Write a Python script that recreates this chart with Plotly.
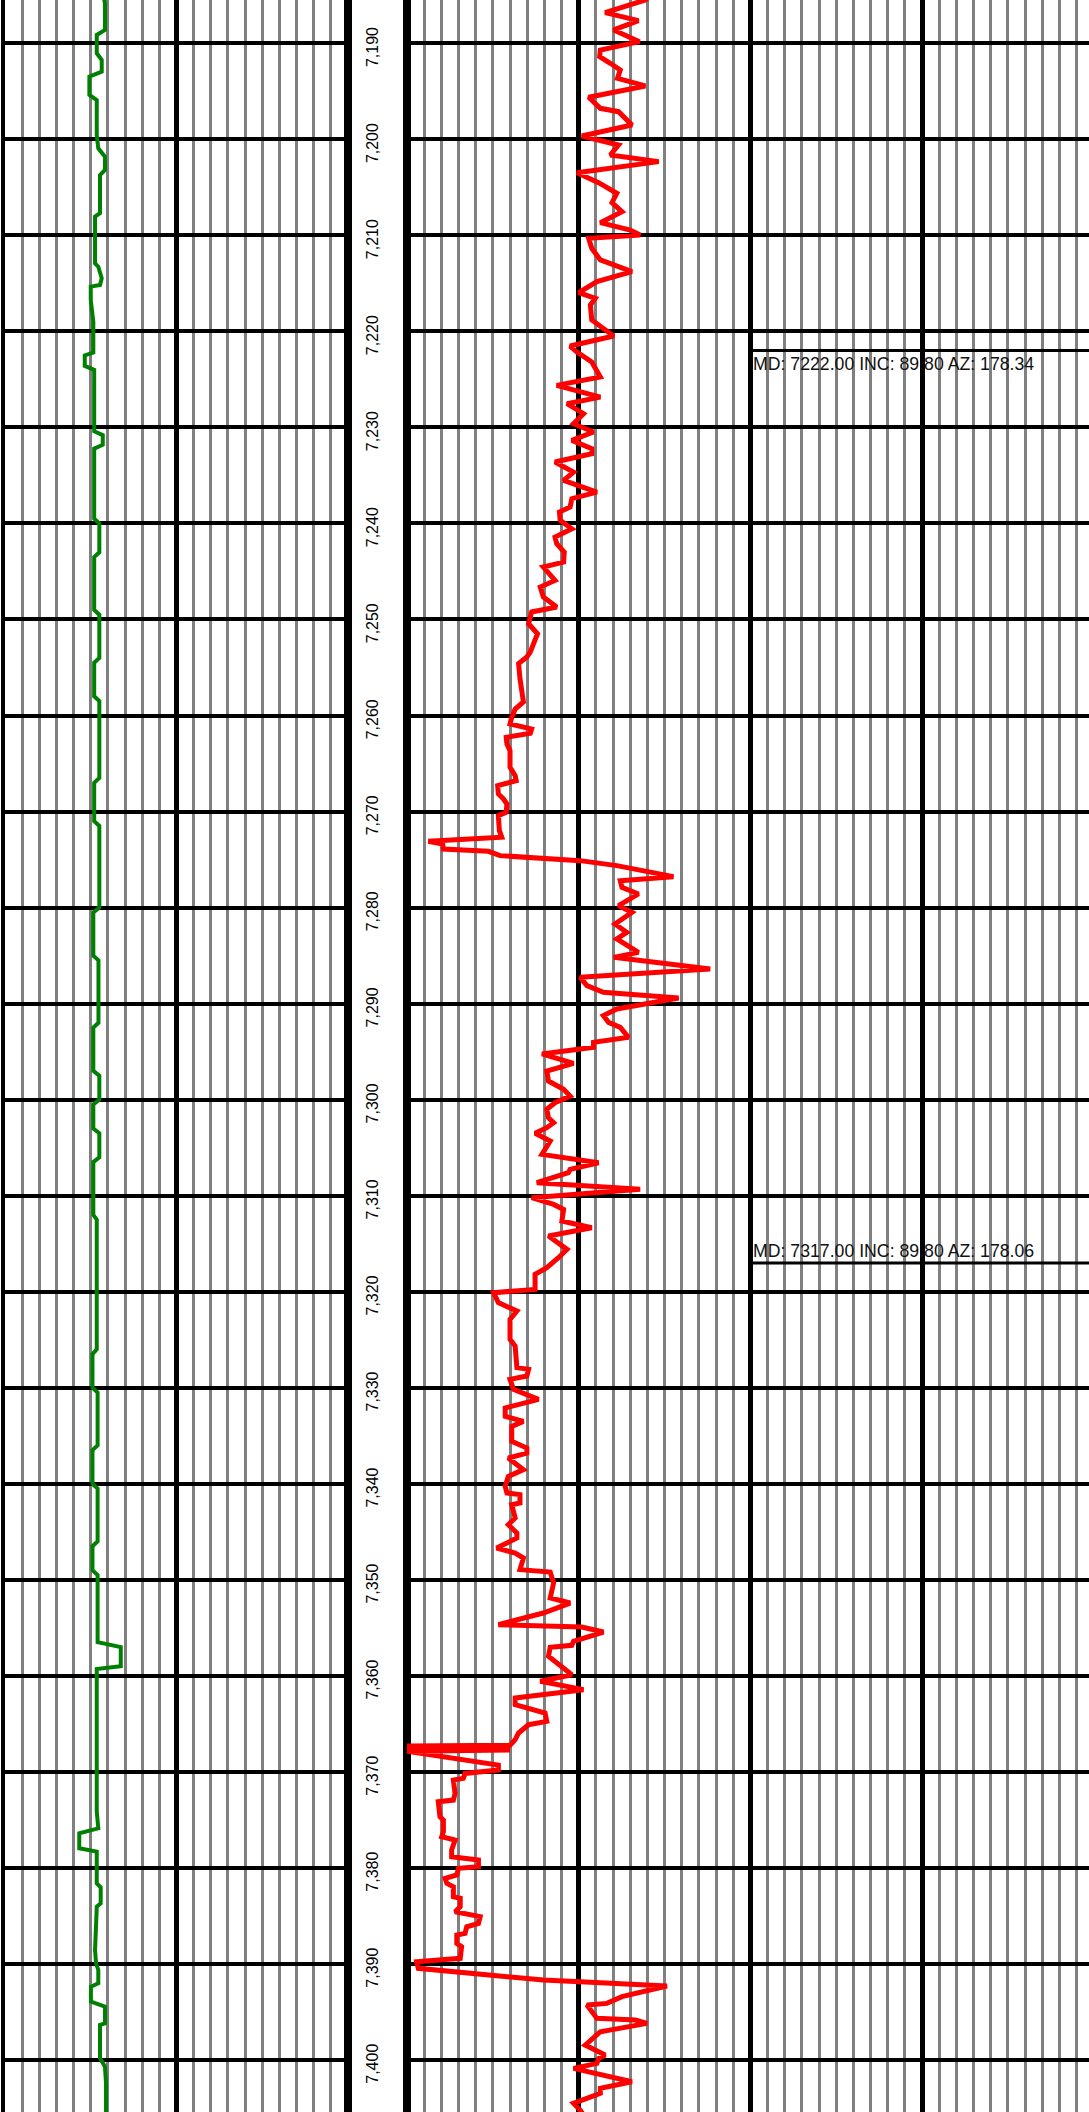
import plotly.graph_objects as go

# ---------------- data ----------------
# red curve (track 2, scale 0-200)
red_depth = [7185.0, 7185.49, 7186.81, 7187.64, 7188.61, 7189.31, 7189.83, 7190.70, 7191.39, 7192.08, 7192.78,
             7193.65, 7194.44, 7195.62, 7196.77, 7197.12, 7198.51, 7199.65, 7200.59, 7201.63, 7202.32,
             7203.47, 7204.51, 7205.62, 7206.59, 7207.53, 7208.68, 7209.44, 7209.96, 7210.31, 7211.35,
             7212.56, 7213.78, 7214.82, 7215.97, 7216.56, 7217.25, 7218.81, 7220.48, 7221.52,
             7222.15, 7223.19, 7224.75, 7225.62, 7226.32, 7226.84, 7227.53, 7228.57, 7229.61, 7230.48,
             7231.35, 7232.22, 7232.74, 7233.60, 7234.65, 7235.51, 7236.73, 7237.42, 7238.29, 7238.81,
             7239.68, 7240.55, 7241.41, 7242.11, 7242.98, 7244.02, 7244.54, 7245.93, 7246.62, 7247.66,
             7248.70, 7249.22, 7250.44, 7251.48, 7253.39, 7253.91, 7254.60, 7256.17, 7258.59,
             7259.32, 7260.19, 7260.88, 7261.40, 7261.85, 7262.27, 7262.97, 7263.66, 7265.39, 7266.26,
             7266.78, 7267.30, 7268.17, 7268.69, 7269.21, 7270.08, 7270.43, 7271.99, 7272.68, 7273.10,
             7273.38, 7273.90, 7274.14, 7274.59, 7275.11, 7275.63, 7276.78, 7277.20, 7277.89, 7278.58,
             7279.80, 7280.49, 7281.71, 7282.58, 7283.27, 7284.66, 7285.18, 7286.39, 7287.26, 7288.13,
             7288.82, 7289.41, 7290.56, 7291.25, 7291.95, 7292.47, 7293.51, 7294.03, 7294.55, 7295.24,
             7296.22, 7297.02, 7298.06, 7298.93, 7299.63, 7300.32, 7301.01, 7301.88, 7302.40, 7302.92,
             7303.51, 7304.31, 7305.70, 7306.57, 7307.26, 7307.61, 7308.65, 7309.34, 7310.21, 7310.91,
             7311.43, 7312.64, 7313.34, 7314.20, 7315.59, 7316.46, 7317.50, 7318.19, 7319.76, 7320.10,
             7321.14, 7322.01, 7322.88, 7324.96, 7325.66, 7327.91, 7328.09, 7328.78, 7329.13, 7330.17,
             7331.21, 7332.11, 7332.98, 7333.50, 7334.02, 7335.58, 7336.28, 7336.80, 7337.32, 7338.53,
             7339.23, 7340.27, 7340.96, 7341.13, 7342.00, 7342.18, 7343.56, 7344.26, 7345.13, 7345.65,
             7346.69, 7347.21, 7347.73, 7348.94, 7349.19, 7350.33, 7351.89, 7352.42, 7353.46, 7354.67,
             7354.91, 7355.44, 7356.41, 7356.82, 7357.03, 7357.97, 7359.18, 7359.88, 7360.57, 7361.44,
             7362.31, 7363.00, 7363.87, 7364.74, 7365.09, 7365.95, 7366.65, 7367.24, 7367.31, 7367.44,
             7367.58, 7367.72, 7367.86, 7369.29, 7369.81, 7370.16, 7370.68, 7370.85, 7372.24, 7372.94,
             7373.11, 7374.67, 7375.02, 7376.23, 7376.75, 7377.10, 7378.14, 7378.84, 7379.18, 7379.88,
             7380.05, 7380.74, 7381.09, 7381.61, 7381.96, 7383.00, 7383.17, 7384.04, 7384.56, 7385.08,
             7385.78, 7386.13, 7386.82, 7386.99, 7387.86, 7388.21, 7389.42, 7389.77, 7390.46, 7391.68,
             7391.85, 7392.30, 7393.41, 7394.11, 7394.28, 7395.67, 7395.84, 7396.19, 7397.06, 7398.45,
             7399.49, 7399.84, 7400.36, 7400.88, 7402.27, 7402.96, 7403.48, 7404.52, 7405.22, 7406.0]
red_value = [71.0, 69.4, 57.7, 67.4, 60.2, 65.0, 67.7, 56.3, 56.1, 59.2, 62.1,
             61.3, 69.4, 52.9, 56.3, 61.6, 65.5, 50.9, 61.6, 59.2, 73.3,
             49.5, 55.8, 61.1, 59.7, 62.6, 56.3, 65.0, 67.9, 52.9, 53.8,
             56.3, 65.5, 55.3, 50.0, 54.8, 53.4, 53.8, 60.2, 47.5,
             49.5, 53.8, 56.3, 43.6, 50.4, 56.3, 46.6, 51.4, 48.5, 54.3,
             48.0, 53.8, 53.8, 43.1, 48.5, 45.6, 55.3, 48.0, 47.5, 44.4,
             44.6, 48.0, 43.1, 43.6, 45.8, 45.6, 39.7, 43.1, 38.8, 39.7,
             43.6, 36.3, 35.4, 38.0, 35.9, 34.9, 32.5, 32.9, 33.9,
             31.5, 30.5, 30.0, 36.3, 35.9, 28.9, 29.1, 30.0, 30.0, 31.5,
             31.8, 26.4, 26.6, 28.1, 29.1, 28.9, 26.6, 26.9, 27.6, 6.2,
             10.4, 10.6, 23.7, 27.1, 50.4, 61.1, 77.6, 62.1, 62.6, 67.4,
             61.6, 65.5, 60.6, 64.0, 61.1, 67.4, 60.2, 88.3, 50.4, 52.4,
             57.2, 79.1, 61.1, 57.2, 58.7, 62.1, 64.5, 54.3, 54.3, 39.3,
             48.5, 40.7, 41.2, 45.6, 47.5, 43.1, 40.7, 41.2, 42.7, 40.7,
             37.3, 41.7, 39.3, 55.8, 47.5, 47.0, 37.8, 67.9, 36.3, 42.7,
             45.6, 45.1, 53.8, 41.2, 46.6, 44.1, 40.7, 37.3, 37.3, 25.2,
             26.6, 32.0, 30.0, 30.0, 31.5, 32.0, 35.4, 34.9, 30.0, 31.0,
             38.3, 28.6, 28.6, 33.9, 30.5, 30.5, 34.9, 34.9, 29.5, 33.9,
             29.5, 28.6, 29.1, 32.9, 32.9, 30.5, 31.5, 29.5, 32.0, 32.0,
             26.1, 31.5, 33.9, 32.9, 41.7, 42.7, 41.7, 47.5, 39.7, 26.6,
             50.9, 57.2, 48.5, 48.0, 41.7, 41.2, 45.6, 48.0, 38.8, 51.4,
             31.5, 31.5, 40.2, 40.7, 35.4, 32.5, 31.5, 30.0, 0.0, 30.0,
             0.0, 30.0, 0.0, 26.6, 26.6, 16.9, 16.4, 13.5, 14.0, 13.5,
             9.1, 9.6, 10.6, 10.6, 10.1, 14.0, 13.0, 13.0, 20.8, 20.8,
             15.0, 14.5, 11.1, 11.6, 13.5, 13.5, 15.5, 15.5, 14.0, 21.3,
             20.8, 17.4, 16.9, 14.5, 14.5, 15.9, 15.5, 2.8, 3.3, 39.7,
             50.4, 75.7, 62.6, 58.2, 52.4, 55.3, 66.5, 69.9, 56.3, 51.9,
             57.7, 55.8, 55.3, 48.5, 65.5, 56.3, 56.3, 48.5, 50.4, 52.0]

# green curve (track 1, scale 0-200)
green_depth = [7185.0, 7185.84, 7188.61, 7189.13, 7191.04, 7191.74, 7192.95, 7193.47, 7195.38, 7195.90,
               7199.55, 7200.94, 7201.80, 7203.19, 7203.71, 7207.70, 7208.05, 7212.91, 7213.26, 7214.47,
               7215.17, 7215.34, 7216.73, 7218.5, 7219.0, 7222.2, 7222.5, 7223.6, 7224.0, 7230.4,
               7230.8, 7231.8, 7232.2, 7239.5, 7240.0, 7243.0, 7243.5, 7249.0, 7249.5, 7254.0,
               7254.5, 7258.0, 7258.5, 7266.5, 7267.0, 7271.0, 7271.5, 7280.0, 7280.5, 7285.0,
               7285.5, 7292.0, 7292.5, 7297.0, 7297.5, 7300.0, 7300.5, 7303.0, 7303.5, 7306.0,
               7306.5, 7312.0, 7312.5, 7326.0, 7326.5, 7330.0, 7330.5, 7336.0, 7336.5, 7340.0,
               7340.5, 7346.0, 7346.5, 7349.0, 7349.5, 7356.5, 7357.0, 7359.0, 7359.3, 7372.93,
               7374.14, 7375.88, 7376.40, 7377.96, 7378.31, 7381.61, 7382.02, 7383.69, 7384.04, 7385.95,
               7388.55, 7389.94, 7390.63, 7392.02, 7392.37, 7393.93, 7394.45, 7396.19, 7396.36, 7399.83,
               7400.70, 7402.43, 7406.0]
green_value = [57.3, 58.3, 58.3, 53.5, 53.5, 56.4, 56.4, 49.2, 49.2, 53.5,
               53.5, 54.4, 58.3, 58.3, 55.4, 55.4, 52.5, 52.5, 54.4, 56.4,
               55.4, 50.0, 50.0, 51.5, 51.5, 51.5, 46.5, 46.5, 52.0, 52.0,
               57.0, 57.0, 52.0, 52.0, 55.0, 55.0, 52.0, 52.0, 55.0, 55.0,
               52.0, 52.0, 55.0, 55.0, 52.0, 52.0, 55.0, 55.0, 51.5, 51.5,
               54.5, 54.5, 51.5, 51.5, 55.0, 55.0, 51.5, 51.5, 55.0, 55.0,
               51.5, 51.5, 53.5, 53.5, 51.0, 51.0, 54.0, 54.0, 51.0, 51.0,
               54.0, 54.0, 51.0, 51.0, 54.0, 54.0, 67.5, 67.5, 53.5, 53.5,
               53.5, 54.4, 43.3, 43.3, 53.5, 53.5, 55.8, 55.8, 53.5, 53.1,
               52.5, 53.1, 54.4, 54.4, 50.1, 50.1, 58.3, 58.3, 55.4, 55.4,
               58.3, 58.9, 58.9]

depth_labels = [7190, 7200, 7210, 7220, 7230, 7240, 7250, 7260, 7270, 7280, 7290,
                7300, 7310, 7320, 7330, 7340, 7350, 7360, 7370, 7380, 7390, 7400]

survey_md = [7222.00, 7317.00]
survey_inc = [89.80, 89.80]
survey_az = [178.34, 178.06]

depth_range = [7405.42, 7185.49]
track1_range = [0, 200]
track2_range = [0, 198.6]

# ---------------- figure ----------------
W, H = 1089, 2112
BLACK = "#000000"
GRAY = "#808080"

fig = go.Figure()
fig.add_trace(go.Scatter(x=green_value, y=green_depth, mode="lines",
                         line=dict(color="#008000", width=4), xaxis="x", yaxis="y",
                         showlegend=False, hoverinfo="skip"))
fig.add_trace(go.Scatter(x=red_value, y=red_depth, mode="lines",
                         line=dict(color="#ff0000", width=5), xaxis="x3", yaxis="y3",
                         showlegend=False, hoverinfo="skip"))

def xtrack(domain, rng, major, minor):
    return dict(domain=domain, range=rng, showgrid=True, gridcolor=BLACK, gridwidth=5,
                dtick=major, tick0=0, zeroline=False, showticklabels=False, ticks="",
                showline=False, fixedrange=True,
                minor=dict(dtick=minor, tick0=0, showgrid=True, gridcolor=GRAY, gridwidth=3))

def ytrack(anchor, mirror):
    return dict(anchor=anchor, range=depth_range, showgrid=True, gridcolor=BLACK, gridwidth=4,
                dtick=10, tick0=0, zeroline=False, showticklabels=False, ticks="",
                showline=True, linecolor=BLACK, linewidth=4, mirror=mirror, fixedrange=True)

fig.update_layout(
    width=W, height=H, margin=dict(l=0, r=0, t=0, b=0),
    paper_bgcolor="white", plot_bgcolor="white",
    font=dict(family="Arial, Liberation Sans, sans-serif", color="black"),
    xaxis=xtrack([5 / W, 348 / W], track1_range, 100, 10),
    yaxis=ytrack("x", True),
    xaxis2=dict(domain=[348 / W, 407 / W], range=[0, 1], showgrid=False, zeroline=False,
                showticklabels=False, fixedrange=True),
    yaxis2=dict(anchor="x2", range=depth_range, matches="y", showgrid=False, zeroline=False,
                showticklabels=False, ticks="inside", dtick=1, tick0=0, ticklen=4, tickwidth=2,
                tickcolor=BLACK, showline=True, linecolor=BLACK, linewidth=4, mirror="allticks",
                fixedrange=True),
    xaxis3=xtrack([407 / W, 1.0], track2_range, 50, 5),
    yaxis3=ytrack("x3", False),
)
fig.update_layout(yaxis3_matches="y")

# depth labels in the depth track
for d in depth_labels:
    fig.add_annotation(x=0.42, y=d, xref="x2", yref="y2", text=f"{d:,}", showarrow=False,
                       textangle=-90, font=dict(size=16, color="black"), yshift=-4)

# survey markers
for i, md in enumerate(survey_md):
    fig.add_shape(type="line", xref="x3", yref="y3", x0=100, x1=track2_range[1], y0=md, y1=md,
                  line=dict(color=BLACK, width=3))
    below = (i == 0)
    fig.add_annotation(x=100, y=md, xref="x3", yref="y3", xanchor="left",
                       yanchor="top" if below else "bottom",
                       text=f"MD: {md:.2f} INC: {survey_inc[i]:.2f} AZ: {survey_az[i]:.2f}",
                       showarrow=False, xshift=1, yshift=-1 if below else 0,
                       font=dict(size=17.7, color="#111111"))

fig.write_html("out.html", config={"displayModeBar": False},
               post_script="document.body.style.margin='0';")
